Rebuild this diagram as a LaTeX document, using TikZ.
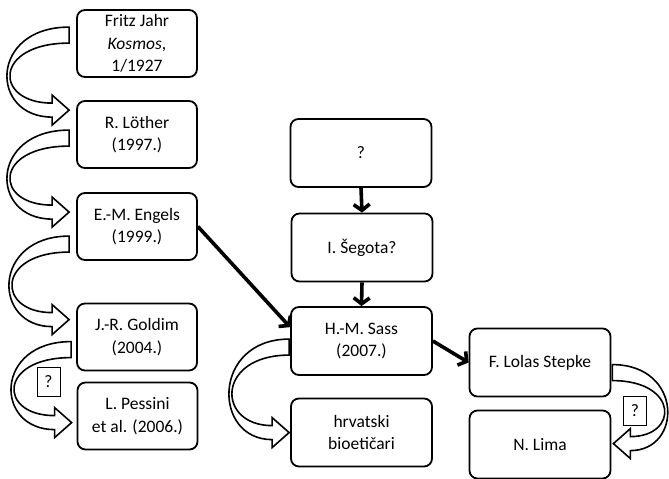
\documentclass[tikz,border=0pt]{standalone}
\usepackage{fontspec}
\setmainfont{Carlito}
\usetikzlibrary{arrows.meta,calc}

\tikzset{
  entry/.style={draw, rounded corners=8, line width=1.8pt, align=center, minimum width=120, minimum height=67, inner sep=2pt, font=\fontsize{17.5}{22.5}\selectfont},
  wide/.style={entry, minimum width=141, minimum height=68},
  query/.style={draw, line width=0.8pt, minimum width=23, minimum height=29, inner sep=0pt, font=\fontsize{17.5}{22.5}\selectfont},
  link/.style={line width=3.6pt, -{Straight Barb[length=6pt,width=16pt]}},
  hollowarrow/.style={draw, fill=white, line width=1.6pt, line join=miter},
}

% hollow curved arrow: top of band, tip, bulge, side (1 left, -1 right)
\newcommand\bendarrow[4]{%
  \draw[hollowarrow] let \p1=(#1), \p2=(#2) in
    (\x1,\y1) .. controls ({\x1-(#4)*(8*#3-17)/6*1pt},\y1) and ({\x1-(#4)*(8*#3-17)/6*1pt},{\y2-7pt}) .. ({\x2-(#4)*17pt},{\y2-7pt})
    -- ({\x2-(#4)*17pt},{\y2-15pt}) -- (\x2,\y2) -- ({\x2-(#4)*17pt},{\y2+15pt}) -- ({\x2-(#4)*17pt},{\y2+7pt})
    .. controls ({\x1-(#4)*(8*#3-41)/6*1pt},{\y2+7pt}) and ({\x1-(#4)*(8*#3-41)/6*1pt},{\y1-16pt}) .. (\x1,{\y1-16pt}) -- cycle;
}

\begin{document}
\begin{tikzpicture}[x=1pt, y=-1pt]
\useasboundingbox (0,0) rectangle (669,479);

% left column
\node[entry] (jahr) at (137,43.5) {Fritz Jahr\\\textit{Kosmos},\\1/1927};
\node[entry] (lother) at (137,134.5) {R. Löther\\(1997.)};
\node[entry] (engels) at (137,226.5) {E.-M. Engels\\(1999.)};
\node[entry] (goldim) at (137,337) {J.-R. Goldim\\(2004.)};
\node[entry] (pessini) at (137.5,416) {L. Pessini\\et al. (2006.)};

% middle column
\node[wide] (unknown) at (361,153) {?};
\node[wide] (segota) at (362,247.5) {I. Šegota?};
\node[wide] (sass) at (361.5,341) {H.-M. Sass\\(2007.)};
\node[wide] (hrv) at (361.5,432.5) {hrvatski\\bioetičari};

% right column
\node[wide] (lolas) at (540,362.5) {F. Lolas Stepke};
\node[wide] (lima) at (540,444.5) {N. Lima};

% question marks
\node[query] (qleft) at (48.5,382) {?};
\node[query] (qright) at (635,411) {?};

% straight links
\draw[link] (unknown.south) -- (segota.north);
\draw[link] (segota.south) -- (sass.north);
\draw[link] (engels.east) -- (sass.169);
\draw[link] (sass.east) -- (lolas.west);

% curved links
\bendarrow{$(jahr.north west)+(-7,18)$}{$(lother.north west)+(-7,10)$}{62}{1}
\bendarrow{$(lother.north west)+(-7,30)$}{$(engels.north west)+(-7,20)$}{62}{1}
\bendarrow{$(engels.north west)+(-7,44)$}{$(goldim.north west)+(-7,17)$}{60}{1}
\bendarrow{$(goldim.north west)+(-5,39)$}{$(pessini.north west)+(-5,41)$}{60}{1}
\bendarrow{$(sass.north west)+(-1,33)$}{$(hrv.north west)+(-1,35)$}{60}{1}
\bendarrow{$(lolas.north east)+(1,37)$}{$(lima.north east)+(2,34)$}{55}{-1}
\end{tikzpicture}
\end{document}
